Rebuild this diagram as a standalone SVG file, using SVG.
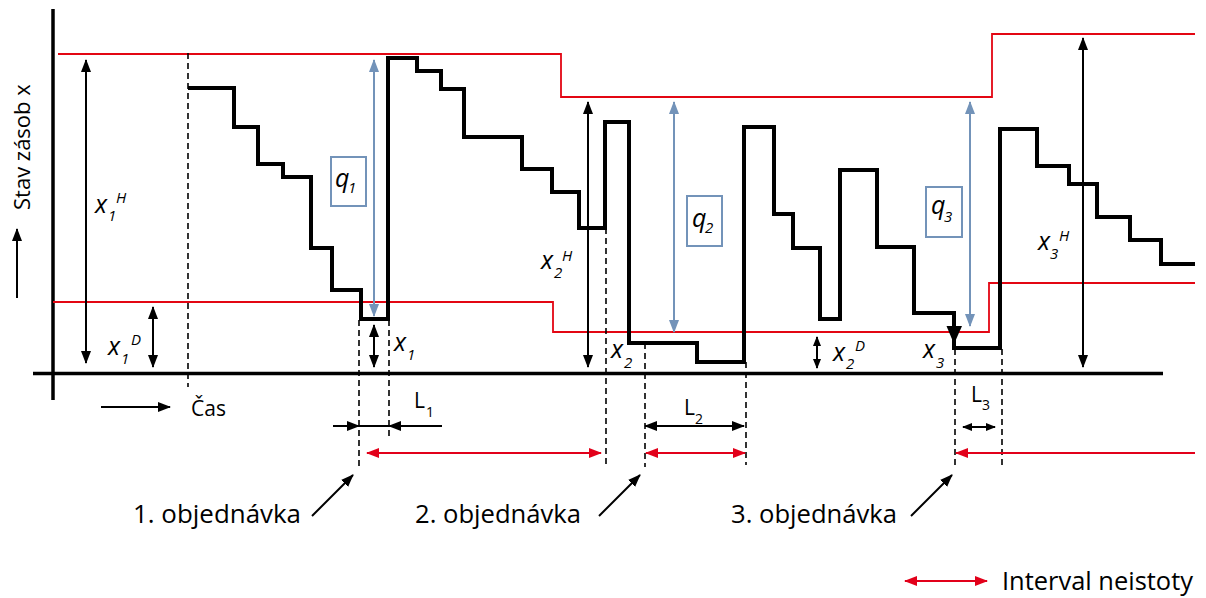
<svg xmlns="http://www.w3.org/2000/svg" width="1206" height="598" viewBox="0 0 1206 598">
<style>
.t{font-family:"Open Sans","Liberation Sans",sans-serif;fill:#000}
.m{font-family:"Open Sans","Liberation Sans",sans-serif;font-style:italic;font-size:25px;fill:#000}
.s{font-family:"Open Sans","Liberation Sans",sans-serif;font-style:italic;font-size:15px;fill:#000}
.n{font-family:"Open Sans","Liberation Sans",sans-serif;font-size:14px;fill:#000}
.red{fill:none;stroke:#e30613;stroke-width:1.8}
.dash{fill:none;stroke:#000;stroke-width:1.6;stroke-dasharray:6,4}
.ba{fill:none;stroke:#000;stroke-width:2;marker-start:url(#ab);marker-end:url(#ab)}
.be{fill:none;stroke:#000;stroke-width:2;marker-end:url(#ab)}
.bs{fill:none;stroke:#000;stroke-width:2;marker-start:url(#as);marker-end:url(#as)}
.bl{fill:none;stroke:#7393b9;stroke-width:2;marker-start:url(#abl);marker-end:url(#abl)}
.ra{fill:none;stroke:#e2001a;stroke-width:2;marker-start:url(#ar);marker-end:url(#ar)}
.re{fill:none;stroke:#e2001a;stroke-width:2;marker-end:url(#ar)}
.box{fill:#fff;stroke:#7393b9;stroke-width:2}
</style>
<defs>
<marker id="ab" viewBox="0 0 13 10" markerWidth="13" markerHeight="10" refX="12" refY="5" orient="auto-start-reverse" markerUnits="userSpaceOnUse"><path d="M0,0 L13,5 L0,10 z" fill="#000"/></marker>
<marker id="as" viewBox="0 0 10 8" markerWidth="10" markerHeight="8" refX="9" refY="4" orient="auto-start-reverse" markerUnits="userSpaceOnUse"><path d="M0,0 L10,4 L0,8 z" fill="#000"/></marker>
<marker id="abl" viewBox="0 0 13 10" markerWidth="13" markerHeight="10" refX="12" refY="5" orient="auto-start-reverse" markerUnits="userSpaceOnUse"><path d="M0,0 L13,5 L0,10 z" fill="#7393b9"/></marker>
<marker id="ar" viewBox="0 0 13 10" markerWidth="13" markerHeight="10" refX="12" refY="5" orient="auto-start-reverse" markerUnits="userSpaceOnUse"><path d="M0,0 L13,5 L0,10 z" fill="#e2001a"/></marker>
</defs>
<rect width="1206" height="598" fill="#fff"/>

<g id="axes">
<line x1="53" y1="9" x2="53" y2="400" stroke="#000" stroke-width="3.5"/>
<line x1="33" y1="373.5" x2="1163" y2="373.5" stroke="#000" stroke-width="3.5"/>
<path class="be" d="M17,298 V229"/>
<path class="be" d="M101,407 H170"/>
<text class="t" font-size="22" transform="translate(30,210) rotate(-90)">Stav zásob x</text>
<text class="t" font-size="21" x="191" y="416">Čas</text>
</g>

<g id="limits">
<path class="red" d="M58,54 H561 V97 H992 V34 H1195"/>
<path class="red" d="M53,302 H553 V332 H989 V283 H1195"/>
</g>

<g id="dashed">
<line class="dash" x1="188" y1="53" x2="188" y2="387"/>
<line class="dash" x1="359" y1="320" x2="359" y2="468"/>
<line class="dash" x1="389" y1="320" x2="389" y2="437"/>
<line class="dash" x1="606" y1="228" x2="606" y2="468"/>
<line class="dash" x1="645" y1="343" x2="645" y2="467"/>
<line class="dash" x1="746" y1="362" x2="746" y2="465"/>
<line class="dash" x1="955" y1="349" x2="955" y2="468"/>
<line class="dash" x1="1002" y1="349" x2="1002" y2="467"/>
</g>

<g id="stock">
<path d="M188,88 H234 V127 H258 V164 H283 V177 H311 V248 H332 V290 H361 V319 H388 V58 H417 V71 H441 V89 H464 V137 H522 V169 H552 V192 H579 V228 H605 V122 H629 V343 H697 V362 H744 V127 H774 V214 H793 V248 H820 V319 H840 V170 H877 V247 H914 V313 H954 V348 H1000 V129 H1037 V166 H1069 V184 H1097 V217 H1130 V240 H1161 V264 H1195" fill="none" stroke="#000" stroke-width="4"/>
<polygon points="946.5,326 962,326 954,344" fill="#000"/>
</g>

<g id="connectors">
<path class="ba" d="M86,60 V363"/>
<path class="ba" d="M153,307 V367"/>
<path class="ba" d="M374,325 V367"/>
<path class="ba" d="M588,102 V367"/>
<path class="ba" d="M1083,38 V367"/>
<path class="bs" d="M817,337 V368"/>
<path class="bl" d="M374,60 V316"/>
<path class="bl" d="M674,102 V332"/>
<path class="bl" d="M970,102 V326"/>
<path class="be" d="M333,426 H359"/>
<line x1="359" y1="426" x2="389" y2="426" stroke="#000" stroke-width="2"/>
<path class="be" d="M442,426 H389"/>
<path class="ba" d="M645,426 H744"/>
<path class="bs" d="M963,427 H995"/>
<path class="ra" d="M367,453 H601"/>
<path class="ra" d="M646,453 H745"/>
<path class="re" d="M1195,453 H956"/>
<path class="ra" d="M905,581 H987"/>
<path class="be" d="M312,516 L353,475"/>
<path class="be" d="M599,516 L640,475"/>
<path class="be" d="M911,516 L952,475"/>
</g>

<g id="q-boxes">
<rect class="box" x="331" y="157" width="35" height="49"/>
<text class="m" x="335" y="187">q</text><text class="s" x="348" y="193">1</text>
<rect class="box" x="687" y="196" width="35" height="50"/>
<text class="m" x="692" y="227">q</text><text class="s" x="705" y="233">2</text>
<rect class="box" x="926" y="187" width="36" height="50"/>
<text class="m" x="931" y="214">q</text><text class="s" x="944" y="222">3</text>
</g>

<g id="labels">
<text class="m" x="95" y="213">x</text><text class="s" x="108" y="221">1</text><text class="s" x="116" y="203">H</text>
<text class="m" x="108" y="355">x</text><text class="s" x="121" y="364">1</text><text class="s" x="131" y="345">D</text>
<text class="m" x="394" y="351">x</text><text class="s" x="407" y="360">1</text>
<text class="m" x="541" y="269">x</text><text class="s" x="554" y="278">2</text><text class="s" x="562" y="261">H</text>
<text class="m" x="611" y="358">x</text><text class="s" x="624" y="368">2</text>
<text class="m" x="833" y="361">x</text><text class="s" x="846" y="369">2</text><text class="s" x="855" y="351">D</text>
<text class="m" x="923" y="358">x</text><text class="s" x="936" y="368">3</text>
<text class="m" x="1038" y="250">x</text><text class="s" x="1050" y="259">3</text><text class="s" x="1059" y="241">H</text>
<text class="t" font-size="21" x="414" y="408">L</text><text class="n" x="426" y="417">1</text>
<text class="t" font-size="21" x="684" y="415">L</text><text class="n" x="695" y="424">2</text>
<text class="t" font-size="21" x="971" y="402">L</text><text class="n" x="982" y="410">3</text>
</g>

<g id="orders">
<text class="t" font-size="25" x="133" y="523" textLength="168" lengthAdjust="spacingAndGlyphs">1. objednávka</text>
<text class="t" font-size="25" x="415" y="523" textLength="166" lengthAdjust="spacingAndGlyphs">2. objednávka</text>
<text class="t" font-size="25" x="731" y="523" textLength="166" lengthAdjust="spacingAndGlyphs">3. objednávka</text>
<text class="t" font-size="25" x="1002" y="590" textLength="191" lengthAdjust="spacingAndGlyphs">Interval neistoty</text>
</g>
</svg>
